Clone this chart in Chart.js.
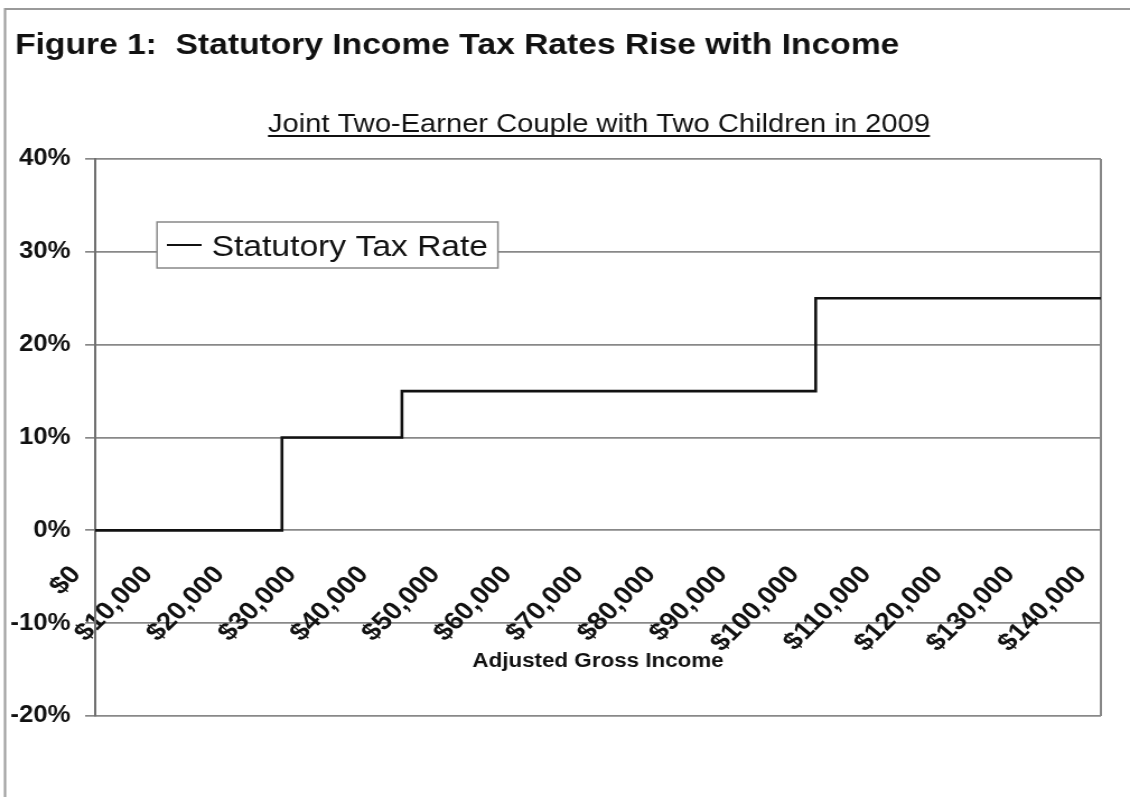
<!DOCTYPE html>
<html>
<head>
<meta charset="utf-8">
<title>Statutory Income Tax Rates Rise with Income</title>
<script src="https://cdn.jsdelivr.net/npm/chart.js@4.4.1/dist/chart.umd.min.js"></script>
<style>
    html, body { margin: 0; padding: 0; background: #fff; }
    #taxChart { display: block; }
</style>
</head>
<body>
<!-- drawn 1009 wide, shown stretched across 1130 -->
<canvas id="taxChart" width="1009" height="797" style="width:1130px;height:797px"></canvas>
<script>
// Income where each statutory rate starts, and the rate from there on
const incomeSteps = [0, 26000, 42700, 100300, 140000];
const rateSteps = [0, 10, 15, 25, 25];

// Axis ticks
const incomeTicks = [0, 10000, 20000, 30000, 40000, 50000, 60000, 70000,
    80000, 90000, 100000, 110000, 120000, 130000, 140000];
const rateTicks = [-20, -10, 0, 10, 20, 30, 40];

const chartTitle = 'Figure 1:  Statutory Income Tax Rates Rise with Income';
const chartSubtitle = 'Joint Two-Earner Couple with Two Children in 2009';

const FONT = '"Liberation Sans", Arial, sans-serif';
const GRID = '#888';
const INK = '#111';

// title, underlined subtitle, outer frame and boxed legend
const figureDecor = {
    id: 'figureDecor',
    afterDraw(chart) {
        const ctx = chart.ctx;
        ctx.save();

        // outer frame (left and top edges only)
        ctx.strokeStyle = '#9a9a9a';
        ctx.lineWidth = 2;
        ctx.beginPath();
        ctx.moveTo(4.5, chart.height);
        ctx.lineTo(4.5, 9);
        ctx.lineTo(chart.width, 9);
        ctx.stroke();

        ctx.fillStyle = INK;
        ctx.textBaseline = 'alphabetic';
        ctx.textAlign = 'left';
        ctx.font = 'bold 30px ' + FONT;
        ctx.fillText(chartTitle, 13.4, 54);

        ctx.font = '26px ' + FONT;
        ctx.textAlign = 'center';
        const cx = 534.8;
        ctx.fillText(chartSubtitle, cx, 131.5);
        const w = ctx.measureText(chartSubtitle).width;
        ctx.fillRect(cx - w / 2, 135, w, 2);

        // legend box
        const bx = 140.2, by = 222, bw = 304.4, bh = 46;
        ctx.fillStyle = '#fff';
        ctx.fillRect(bx, by, bw, bh);
        ctx.strokeStyle = GRID;
        ctx.lineWidth = 1.5;
        ctx.strokeRect(bx, by, bw, bh);

        const ds = chart.data.datasets[0];
        ctx.strokeStyle = ds.borderColor;
        ctx.lineWidth = 2;
        ctx.beginPath();
        ctx.moveTo(149, 245);
        ctx.lineTo(180, 245);
        ctx.stroke();

        ctx.fillStyle = INK;
        ctx.textAlign = 'left';
        ctx.font = '30px ' + FONT;
        ctx.fillText(ds.label, 189, 255.5);

        ctx.restore();
    }
};

const ctx = document.getElementById('taxChart').getContext('2d');

const chart = new Chart(ctx, {
    type: 'line',
    data: {
        datasets: [
            {
                label: 'Statutory Tax Rate',
                data: incomeSteps.map((inc, i) => ({ x: inc, y: rateSteps[i] })),
                stepped: 'before',
                borderColor: '#111',
                borderWidth: 2.6,
                pointRadius: 0,
                fill: false
            }
        ]
    },
    options: {
        responsive: false,
        devicePixelRatio: 1,
        animation: false,
        layout: {
            padding: { left: 0, right: 26, top: 159, bottom: 81 }
        },
        plugins: {
            legend: { display: false },
            title: { display: false },
            tooltip: { enabled: false }
        },
        scales: {
            x: {
                type: 'linear',
                position: { y: 0 },
                min: 0,
                max: 140000,
                afterBuildTicks: axis => {
                    axis.ticks = incomeTicks.map(v => ({ value: v }));
                },
                // labels sit inside the plot, so they must not push the plot edges in
                afterFit: axis => {
                    axis.paddingLeft = 0;
                    axis.paddingRight = 0;
                },
                border: { display: false },
                grid: {
                    drawTicks: false,
                    lineWidth: 2,
                    // only the right edge of the plot gets a line
                    color: c => (c.tick && c.tick.value === 140000) ? GRID : 'rgba(0,0,0,0)'
                },
                ticks: {
                    autoSkip: false,
                    minRotation: 48,
                    maxRotation: 48,
                    padding: 30,
                    labelOffset: -17,
                    color: INK,
                    font: { family: FONT, size: 25, weight: 'bold' },
                    callback: v => '$' + v.toLocaleString('en-US')
                },
                title: {
                    display: true,
                    text: 'Adjusted Gross Income',
                    color: INK,
                    font: { family: FONT, size: 20, weight: 'bold' },
                    padding: { top: -38, bottom: 0 }
                }
            },
            y: {
                min: -20,
                max: 40,
                afterBuildTicks: axis => {
                    axis.ticks = rateTicks.map(v => ({ value: v }));
                },
                afterFit: axis => {
                    axis.width = 85;
                },
                border: { display: true, color: '#707070', width: 2 },
                grid: {
                    color: GRID,
                    lineWidth: 1.7,
                    drawTicks: true,
                    tickLength: 9
                },
                ticks: {
                    padding: 13,
                    color: INK,
                    font: { family: FONT, size: 23, weight: 'bold' },
                    callback: v => v + '%'
                }
            }
        }
    },
    plugins: [figureDecor]
});
</script>
</body>
</html>
